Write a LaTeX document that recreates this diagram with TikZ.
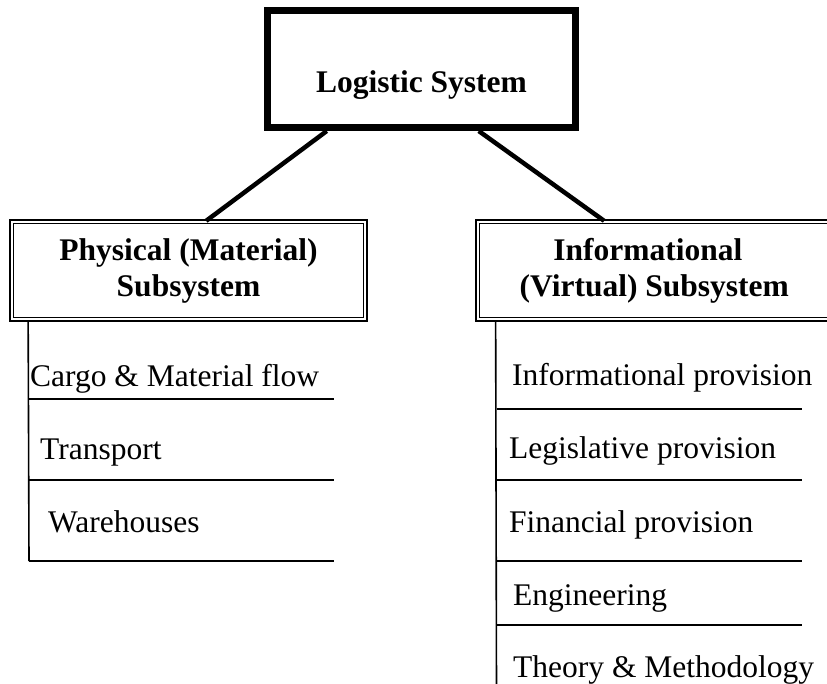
\documentclass[tikz,border=0pt]{standalone}
\usepackage{fontspec}
\setmainfont{Liberation Serif}
\begin{document}
\begin{tikzpicture}[x=1pt,y=-1pt,
  topbox/.style={draw, line width=6.5pt, minimum width=308.5pt, minimum height=117.5pt, inner sep=0pt},
  subbox/.style={draw, double, double distance=2pt, line width=1.7pt,
    minimum width=353.6pt, minimum height=97.6pt, inner sep=0pt, align=center,
    font=\bfseries\fontsize{31.5}{36}\selectfont},
  headtext/.style={inner sep=0pt, font=\bfseries\fontsize{31.5}{36}\selectfont},
  item/.style={anchor=base west, inner sep=0pt, font=\fontsize{31.5}{36}\selectfont},
  link/.style={line width=4.5pt},
  rule/.style={line width=1.6pt}]
\useasboundingbox (0,0) rectangle (827,684);

% top-level system box: thick outer frame with a thin inner frame
\node[topbox] (top) at (421.5,69) {};
\draw[line width=1.3pt] ([shift={(6.2,6.2)}]top.north west) rectangle ([shift={(-6.2,-6.2)}]top.south east);
\node[headtext, anchor=base] (toptext) at (421.5,93) {Logistic System};

% the two subsystems
\node[subbox] (phys) at (188.5,270.5) {Physical (Material)\\Subsystem};
\node[subbox] (info) at (654.3,270.5) {Informational\kern13pt\\(Virtual) Subsystem};

% links from the system to its subsystems
\draw[link] ([xshift=62.75pt]top.south west) -- ([xshift=195.3pt]phys.north west);
\draw[link] ([xshift=214.75pt]top.south west) -- ([xshift=127.5pt]info.north west);

% physical subsystem components
\coordinate (pbottom) at (29,561);
\draw[rule] ([xshift=17.3pt]phys.south west) -- (pbottom);
\draw[rule] (29,399) -- (334,399);
\draw[rule] (29,480) -- (334,480);
\draw[rule] (pbottom) -- (334,561);
\node[item] (p1) at (30,386) {Cargo \& Material flow};
\node[item] (p2) at (40,459) {Transport};
\node[item] (p3) at (48,532) {Warehouses};

% informational subsystem components
\coordinate (ibottom) at (496.5,690);
\draw[rule] ([xshift=19pt]info.south west) -- (ibottom);
\draw[rule] (496.5,409) -- (802,409);
\draw[rule] (496.5,480) -- (802,480);
\draw[rule] (496.5,561) -- (802,561);
\draw[rule] (496.5,625) -- (802,625);
\node[item] (i1) at (512,385) {Informational provision};
\node[item] (i2) at (509,458) {Legislative provision};
\node[item] (i3) at (509,532) {Financial provision};
\node[item] (i4) at (513,605) {Engineering};
\node[item] (i5) at (513,677) {Theory \& Methodology};
\end{tikzpicture}
\end{document}
